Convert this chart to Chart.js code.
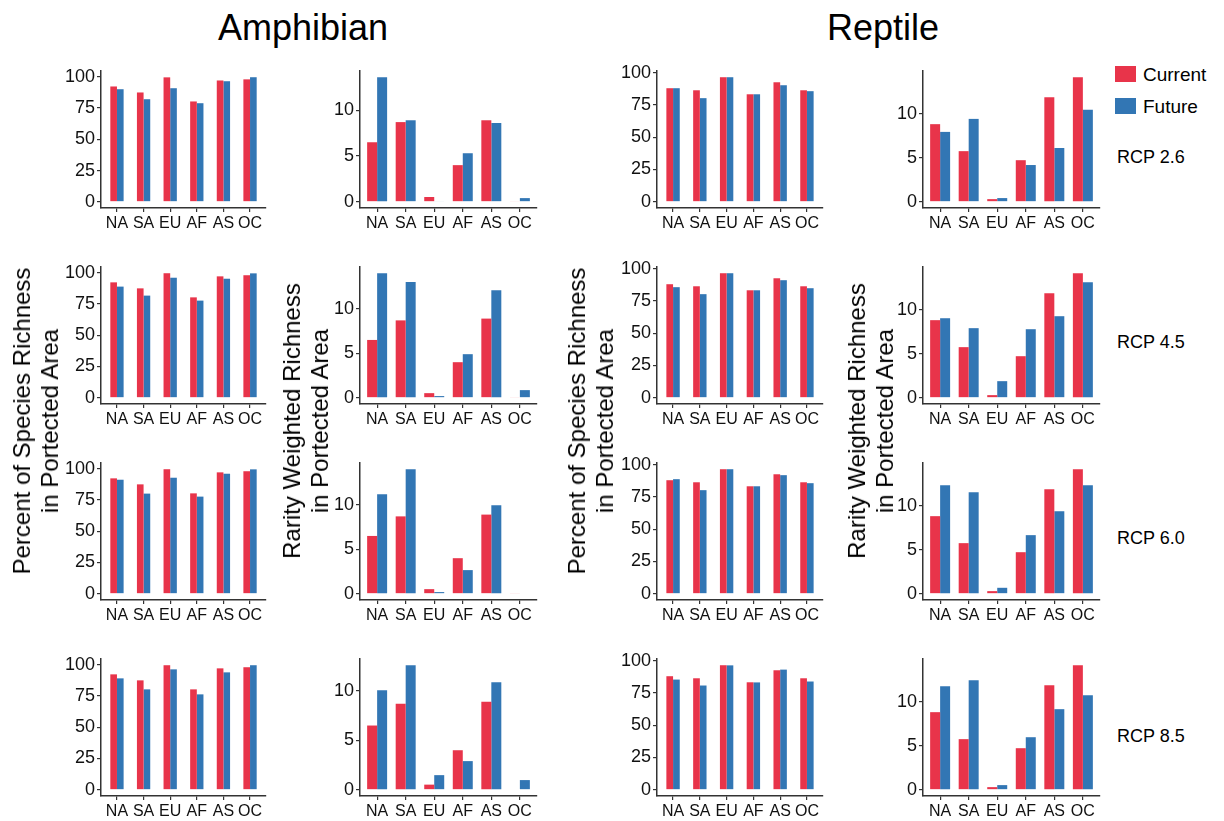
<!DOCTYPE html>
<html>
<head>
<meta charset="utf-8">
<script src="https://cdn.jsdelivr.net/npm/chart.js@4.4.1/dist/chart.umd.min.js"></script>
<style>
  body { margin: 0; background: #fff; width: 1224px; height: 821px; position: relative; overflow: hidden;
         font-family: "Liberation Sans", Arial, Helvetica, sans-serif; color: #000; }
  canvas { position: absolute; }
  .txt { position: absolute; line-height: 1; white-space: nowrap; }
  .ytitle { position: absolute; font-size: 24px; line-height: 28px; text-align: center; white-space: nowrap;
            transform: translate(-50%, -50%) rotate(-90deg); }
  .key { position: absolute; width: 21px; height: 16px; }
</style>
</head>
<body>
<script>
const regions = ["NA", "SA", "EU", "AF", "AS", "OC"];
const scenarios = ["RCP 2.6", "RCP 4.5", "RCP 6.0", "RCP 8.5"];
const pctTicks = [0, 25, 50, 75, 100];
const rwrTicks = [0, 5, 10];

// amphibian, percent of species richness in protected area
const ampPctCurrent  = [92.3, 87.5, 99.6, 80.3, 97.1, 98.0];
const ampPctFuture26 = [90.1, 82.1, 90.9, 78.9, 96.5, 99.7];
const ampPctFuture45 = [88.9, 81.7, 96.0, 77.7, 95.2, 99.5];
const ampPctFuture60 = [91.2, 80.1, 92.8, 77.7, 96.0, 99.5];
const ampPctFuture85 = [89.1, 80.3, 96.3, 76.3, 93.9, 99.6];

// amphibian, rarity weighted richness
const ampRwrCurrent  = [6.5, 8.7, 0.52, 4.0, 8.9, 0.06];
const ampRwrFuture26 = [13.6, 8.9, 0.07, 5.3, 8.6, 0.4];
const ampRwrFuture45 = [14.0, 13.0, 0.19, 4.9, 12.1, 0.86];
const ampRwrFuture60 = [11.2, 14.0, 0.19, 2.66, 9.96, 0.07];
const ampRwrFuture85 = [10.07, 12.6, 1.48, 2.9, 10.88, 0.98];

// reptile, percent of species richness
const repPctCurrent  = [87.9, 86.3, 96.4, 83.2, 92.5, 86.3];
const repPctFuture26 = [87.9, 80.2, 96.4, 83.2, 90.2, 85.6];
const repPctFuture45 = [85.6, 80.2, 96.4, 83.2, 91.0, 84.8];
const repPctFuture60 = [88.7, 80.2, 96.4, 83.2, 91.8, 85.6];
const repPctFuture85 = [85.3, 80.7, 96.3, 83.1, 93.0, 83.8];

// reptile, rarity weighted richness
const repRwrCurrent  = [8.83, 5.76, 0.3, 4.73, 11.9, 14.17];
const repRwrFuture26 = [7.95, 9.43, 0.42, 4.18, 6.12, 10.46];
const repRwrFuture45 = [9.05, 7.92, 1.89, 7.8, 9.28, 13.14];
const repRwrFuture60 = [12.35, 11.55, 0.68, 6.67, 9.39, 12.35];
const repRwrFuture85 = [11.78, 12.46, 0.53, 5.98, 9.17, 10.76];

const RED = "#E8344A";
const BLUE = "#3276B4";
const FONT = "'Liberation Sans', Arial, Helvetica, sans-serif";
const AXIS = "#333333";

const rowTop = [71, 267, 463, 659];
const columns = [
  { axisX: 101, plotW: 165, current: ampPctCurrent, futures: [ampPctFuture26, ampPctFuture45, ampPctFuture60, ampPctFuture85], ticks: pctTicks, frac: 0.5 },
  { axisX: 360, plotW: 177, current: ampRwrCurrent, futures: [ampRwrFuture26, ampRwrFuture45, ampRwrFuture60, ampRwrFuture85], ticks: rwrTicks, frac: 0.7 },
  { axisX: 657, plotW: 166, current: repPctCurrent, futures: [repPctFuture26, repPctFuture45, repPctFuture60, repPctFuture85], ticks: pctTicks, frac: 0.5 },
  { axisX: 923, plotW: 177, current: repRwrCurrent, futures: [repRwrFuture26, repRwrFuture45, repRwrFuture60, repRwrFuture85], ticks: rwrTicks, frac: 0.7 },
];

function addText(text, cls, css) {
  const d = document.createElement("div");
  d.className = cls;
  d.innerHTML = text;
  Object.assign(d.style, css);
  document.body.appendChild(d);
}

function drawPanel(col, row) {
  const padTop = 10, yW = 46, padR = 8, xH = 30, plotH = 137;
  const current = col.current;
  const future = col.futures[row];
  const cv = document.createElement("canvas");
  cv.width = yW + col.plotW + padR;
  cv.height = padTop + plotH + xH;
  cv.style.left = (col.axisX - yW) + "px";
  cv.style.top = (rowTop[row] - padTop) + "px";
  document.body.appendChild(cv);

  const top = Math.max(...current, ...future);
  const border = { display: true, color: AXIS, width: 1.5 };
  const grid = { display: true, offset: false, drawOnChartArea: false, drawTicks: true, tickLength: 4, color: AXIS, lineWidth: 1.2 };

  new Chart(cv, {
    type: "bar",
    data: {
      labels: regions.map((r, i) => i + 1),
      datasets: [
        { label: "Current", data: current, backgroundColor: RED, borderWidth: 0 },
        { label: "Future", data: future, backgroundColor: BLUE, borderWidth: 0 },
      ],
    },
    options: {
      responsive: false,
      animation: false,
      events: [],
      layout: { padding: { top: padTop, right: padR, left: 0, bottom: 0 } },
      datasets: { bar: { categoryPercentage: col.frac, barPercentage: 1 } },
      plugins: { legend: { display: false }, tooltip: { enabled: false } },
      scales: {
        x: {
          type: "linear", offset: false, bounds: "data", min: 0.4, max: 6.6,
          border: border, grid: grid,
          afterBuildTicks: (s) => { s.ticks = regions.map((r, i) => ({ value: i + 1 })); },
          afterFit: (s) => { s.height = xH; s.paddingLeft = 0; s.paddingRight = 0; },
          ticks: { autoSkip: false, maxRotation: 0, padding: 2, color: "#111",
                   font: { family: FONT, size: 16 }, callback: (v) => regions[v - 1] },
        },
        y: {
          type: "linear", bounds: "data", min: -0.05 * top, max: 1.05 * top,
          border: border, grid: grid,
          afterBuildTicks: (s) => { s.ticks = col.ticks.map((v) => ({ value: v })); },
          afterFit: (s) => { s.width = yW; s.paddingTop = 0; s.paddingBottom = 0; },
          ticks: { padding: 2, color: "#111", font: { family: FONT, size: 18 }, callback: (v) => String(v) },
        },
      },
    },
  });
}

columns.forEach((col) => {
  scenarios.forEach((s, row) => drawPanel(col, row));
});

// titles
addText("Amphibian", "txt", { left: "303px", top: "10px", fontSize: "36px", transform: "translateX(-50%)" });
addText("Reptile", "txt", { left: "883px", top: "10px", fontSize: "36px", transform: "translateX(-50%)" });

// axis titles
const pctTitle = "Percent of Species Richness<br>in Portected Area";
const rwrTitle = "Rarity Weighted Richness<br>in Portected Area";
[[36, pctTitle], [306, rwrTitle], [591, pctTitle], [871, rwrTitle]].forEach(([x, t]) => {
  addText(t, "ytitle", { left: x + "px", top: "421px" });
});

// legend
[["Current", RED, 74], ["Future", BLUE, 106]].forEach(([name, color, cy]) => {
  const k = document.createElement("div");
  k.className = "key";
  k.style.background = color;
  k.style.left = "1115px";
  k.style.top = (cy - 8) + "px";
  document.body.appendChild(k);
  addText(name, "txt", { left: "1143px", top: cy + "px", fontSize: "19px", transform: "translateY(-50%)" });
});

// scenario labels
const scenarioY = [157, 342, 538, 736];
scenarios.forEach((s, i) => {
  addText(s, "txt", { left: "1117px", top: scenarioY[i] + "px", fontSize: "18px", transform: "translateY(-50%)" });
});
</script>
</body>
</html>
